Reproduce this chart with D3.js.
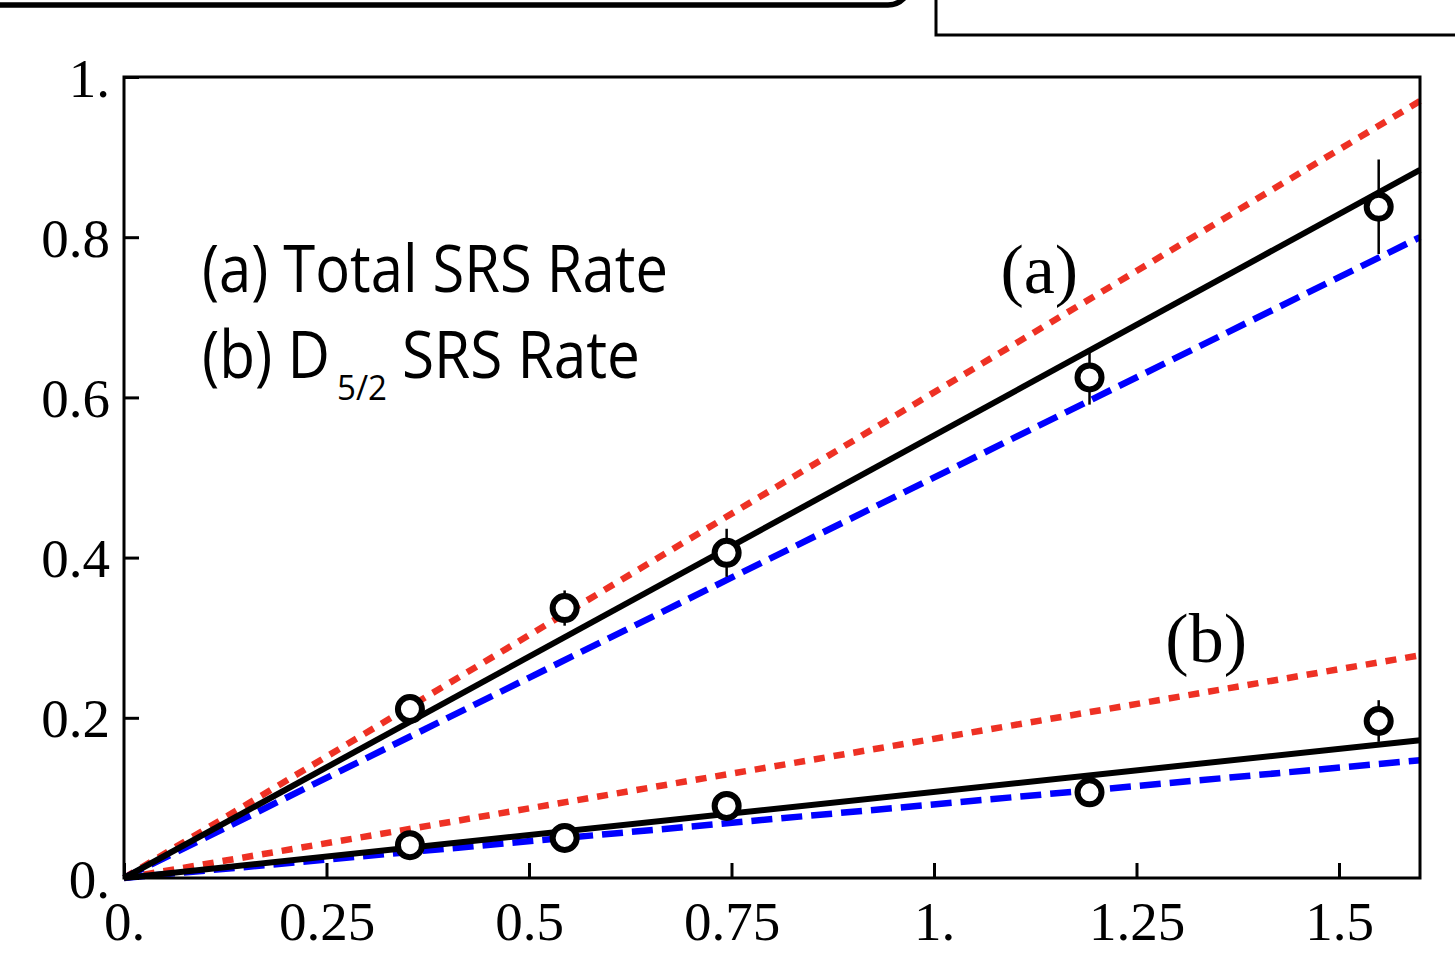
<!DOCTYPE html>
<html>
<head>
<meta charset="utf-8">
<script src="https://cdn.jsdelivr.net/npm/d3@7"></script>
<style>
  body { margin: 0; background: #fff; }
  svg { display: block; }
</style>
</head>
<body>
<script>
// measured points, x = drive (arb.), y = rate
const xPts = [0.353, 0.544, 0.744, 1.192, 1.549];
const rateA = [0.211, 0.337, 0.406, 0.625, 0.838];
const errA = [0.012, 0.022, 0.03, 0.034, 0.059];
const rateB = [0.041, 0.05, 0.09, 0.107, 0.196];
const errB = [0.008, 0.01, 0.012, 0.012, 0.026];

// model lines, start and end
const fitA = [[0, 0], [1.6, 0.884]];
const upperA = [[0, 0], [1.6, 0.97]];
const lowerA = [[0, 0], [1.6, 0.80]];
const fitB = [[0, 0], [1.6, 0.172]];
const upperB = [[0, 0], [1.6, 0.278]];
const lowerB = [[0, 0], [1.6, 0.147]];

const xTicks = [0, 0.25, 0.5, 0.75, 1, 1.25, 1.5];
const xTickLabels = ["0.", "0.25", "0.5", "0.75", "1.", "1.25", "1.5"];
const yTicks = [0, 0.2, 0.4, 0.6, 0.8, 1];
const yTickLabels = ["0.", "0.2", "0.4", "0.6", "0.8", "1."];

const W = 1455, H = 967;
const margin = {left: 124, top: 77, right: 35, bottom: 89};

const svg = d3.select("body").append("svg")
    .attr("width", W)
    .attr("height", H);

// bits of neighbouring panels at the top
svg.append("rect")
    .attr("x", -30).attr("y", -100)
    .attr("width", 940).attr("height", 105)
    .attr("rx", 22)
    .attr("fill", "none").attr("stroke", "#000").attr("stroke-width", 5.5);
svg.append("path")
    .attr("d", "M936,-5V35H1460")
    .attr("fill", "none").attr("stroke", "#000").attr("stroke-width", 3);

const x = d3.scaleLinear().domain([0, 1.6]).range([margin.left, W - margin.right]);
const y = d3.scaleLinear().domain([0, 1]).range([H - margin.bottom, margin.top]);

svg.append("defs").append("clipPath").attr("id", "clip")
  .append("rect")
    .attr("x", x(0) - 4).attr("y", y(1))
    .attr("width", x(1.6) - x(0) + 6).attr("height", y(0) - y(1) + 4);

const plot = svg.append("g").attr("clip-path", "url(#clip)");

const line = d3.line().x(d => x(d[0])).y(d => y(d[1]));

function drawModel(pts, color, dash, w) {
  plot.append("path")
      .datum(pts)
      .attr("d", line)
      .attr("fill", "none")
      .attr("stroke", color)
      .attr("stroke-width", w)
      .attr("stroke-dasharray", dash);
}

drawModel(upperA, "#ee3124", "11,9", 6.5);
drawModel(upperB, "#ee3124", "11,9", 6.5);
drawModel(lowerA, "#0000ff", "21,9", 6.5);
drawModel(lowerB, "#0000ff", "21,9", 6.5);
drawModel(fitA, "#000", null, 6);
drawModel(fitB, "#000", null, 6);

// error bars + open circles
function drawPoints(vals, errs) {
  const g = svg.append("g");
  g.selectAll("line.err")
    .data(vals)
    .join("line")
      .attr("class", "err")
      .attr("x1", (d, i) => x(xPts[i]))
      .attr("x2", (d, i) => x(xPts[i]))
      .attr("y1", (d, i) => y(d - errs[i]))
      .attr("y2", (d, i) => y(d + errs[i]))
      .attr("stroke", "#000")
      .attr("stroke-width", 2.5);
  g.selectAll("circle")
    .data(vals)
    .join("circle")
      .attr("cx", (d, i) => x(xPts[i]))
      .attr("cy", d => y(d))
      .attr("r", 12)
      .attr("fill", "#fff")
      .attr("stroke", "#000")
      .attr("stroke-width", 6);
}
drawPoints(rateA, errA);
drawPoints(rateB, errB);

// frame
svg.append("rect")
    .attr("x", x(0)).attr("y", y(1))
    .attr("width", x(1.6) - x(0)).attr("height", y(0) - y(1))
    .attr("fill", "none").attr("stroke", "#000").attr("stroke-width", 3);

// inward ticks
const serif = "'Liberation Serif', 'Times New Roman', serif";
const xAxis = d3.axisBottom(x).tickValues(xTicks)
    .tickSize(-15).tickFormat((d, i) => xTickLabels[i]);
const gx = svg.append("g")
    .attr("transform", `translate(0,${y(0)})`)
    .call(xAxis);
gx.select(".domain").remove();
gx.selectAll(".tick line").attr("stroke-width", 3);
gx.selectAll(".tick text")
    .attr("y", 62).attr("dy", null)
    .attr("font-family", serif)
    .attr("font-size", 55)
    .attr("fill", "#000");

const yAxis = d3.axisLeft(y).tickValues(yTicks)
    .tickSize(-15).tickFormat((d, i) => yTickLabels[i]);
const gy = svg.append("g")
    .attr("transform", `translate(${x(0)},0)`)
    .call(yAxis);
gy.select(".domain").remove();
gy.selectAll(".tick line").attr("stroke-width", 3);
gy.selectAll(".tick text")
    .attr("x", -14).attr("dy", null).attr("y", 19)
    .attr("font-family", serif)
    .attr("font-size", 55)
    .attr("fill", "#000");

// curve labels
svg.append("text")
    .attr("x", x(1.13)).attr("y", y(0.73))
    .attr("text-anchor", "middle")
    .attr("font-family", serif).attr("font-size", 70)
    .text("(a)");
svg.append("text")
    .attr("x", x(1.336)).attr("y", y(0.27))
    .attr("text-anchor", "middle")
    .attr("font-family", serif).attr("font-size", 70)
    .text("(b)");

// legend text, squeezed horizontally to the narrow face of the original
const sans = "'Open Sans', 'Noto Sans', sans-serif";
function squeezed(str, px, py, size, width) {
  const g = svg.append("g");
  const t = g.append("text")
      .attr("font-family", sans).attr("font-size", size)
      .text(str);
  const s = width / t.node().getComputedTextLength();
  g.attr("transform", `translate(${px},${py}) scale(${s},1)`);
}
squeezed("(a) Total SRS Rate", 202, 292, 66, 466);
squeezed("(b) D", 202, 378, 66, 128);
squeezed("5/2", 337, 400, 34, 50);
squeezed("SRS Rate", 402, 378, 66, 238);
</script>
</body>
</html>
